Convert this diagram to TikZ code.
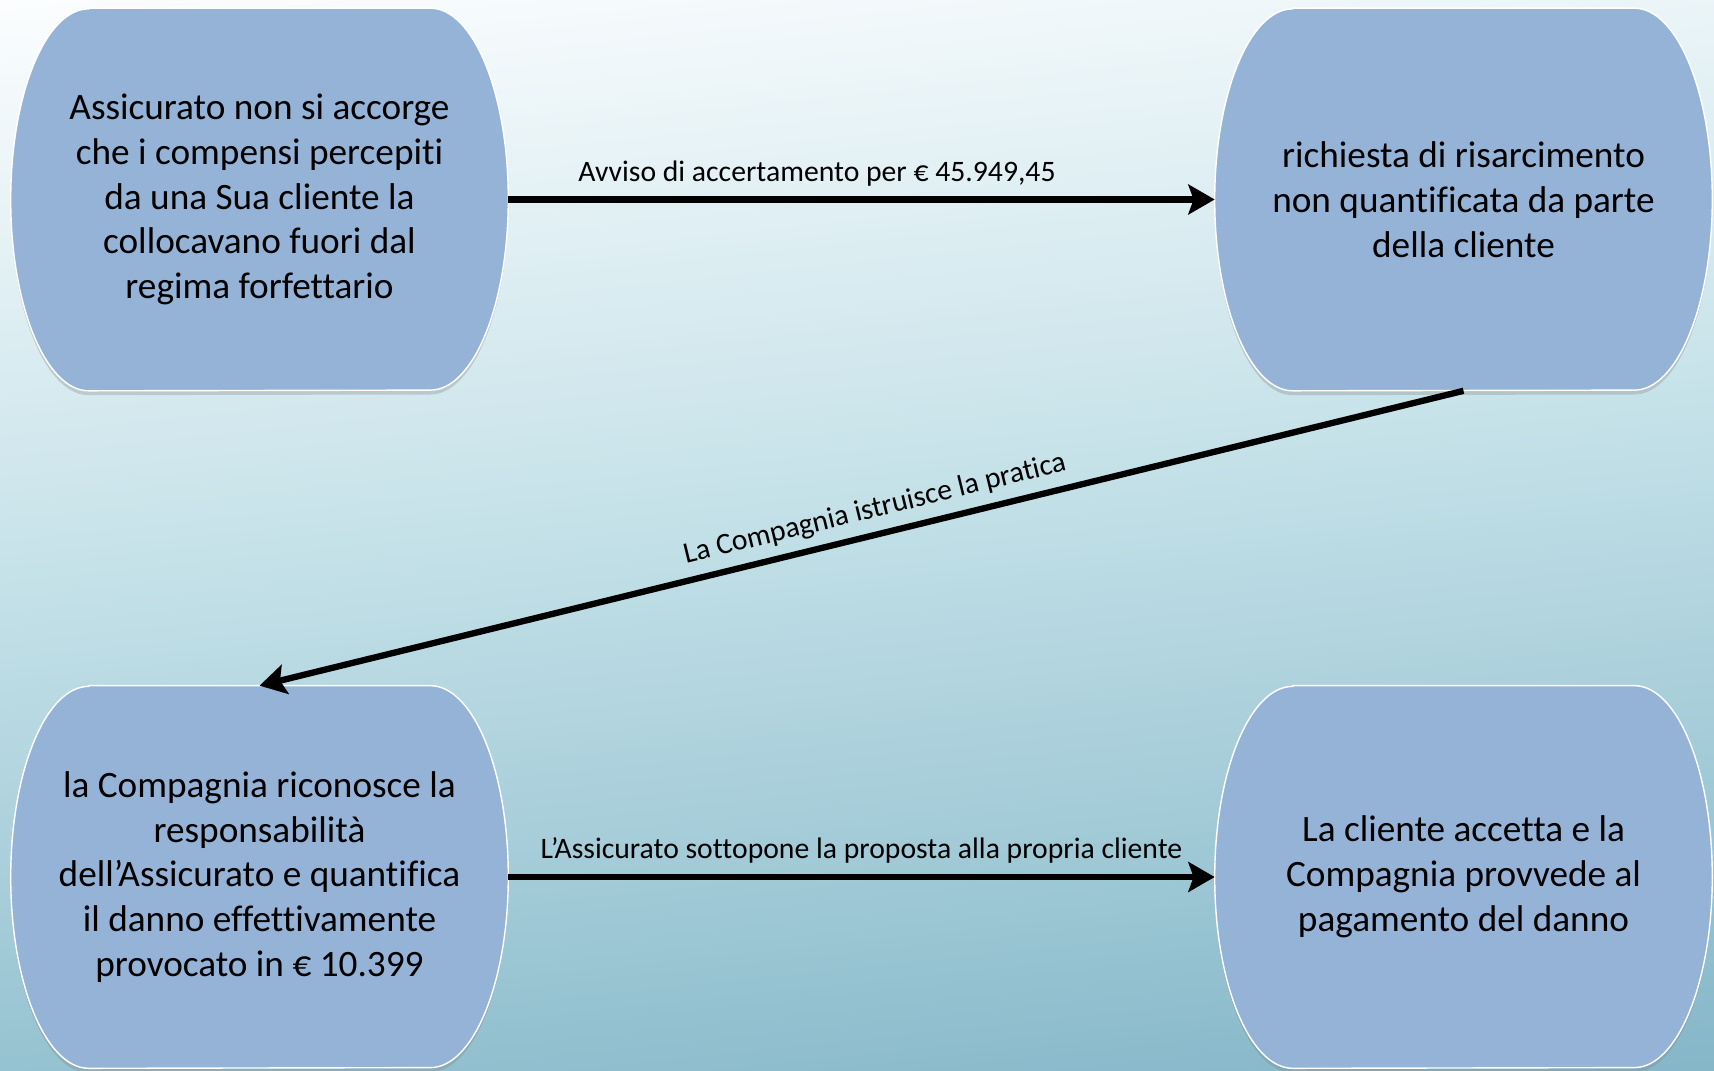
\documentclass[tikz,border=0pt]{standalone}
\usepackage{fontspec}
\setmainfont{Carlito}[Ligatures={NoCommon}]
\usepackage{tikz}
\usetikzlibrary{arrows.meta, positioning, calc, shadows}
\definecolor{cielo}{RGB}{253, 254, 255}
\definecolor{acqua}{RGB}{198, 226, 233}
\definecolor{petrolio}{RGB}{128, 180, 198}
\definecolor{fasefill}{RGB}{149, 179, 215}
\pgfdeclarelayer{sfondo}
\pgfdeclarelayer{dietro}
\pgfsetlayers{sfondo,dietro,main}
\pgfdeclareverticalshading{cielomare}{100bp}{color(0bp)=(petrolio); color(25bp)=(petrolio);
  color(52bp)=(acqua); color(74bp)=(cielo); color(100bp)=(cielo)}

% contorno a capsula dietro il nodo
\newcommand{\capsula}[1]{%
  \begin{pgfonlayer}{dietro}
    \path[capsulabordo] ($(#1.north west)+(78,0)$) -- ($(#1.north east)+(-78,0)$)
      arc[start angle=90, end angle=-90, x radius=1.56cm, y radius=3.82cm]
      -- ($(#1.south west)+(78,0)$)
      arc[start angle=270, end angle=90, x radius=1.56cm, y radius=3.82cm] -- cycle;
  \end{pgfonlayer}}

\begin{document}
\begin{tikzpicture}[x=0.02cm, y=-0.02cm,
    fase/.style={minimum width=9.94cm, minimum height=7.64cm, inner sep=0pt,
      align=center, font=\fontsize{21.2pt}{25.5pt}\selectfont},
    capsulabordo/.style={fill=fasefill, draw=white, line width=0.8pt,
      drop shadow={opacity=0.3, shadow xshift=0pt, shadow yshift=-2.5pt}},
    freccia/.style={line width=3.6pt, -{Stealth[length=15pt, width=17pt, inset=3pt]}},
    etichetta/.style={font=\fontsize{16.9pt}{20pt}\selectfont, inner sep=1pt}]

  \useasboundingbox (0,0) rectangle (1714,1071);
  \begin{pgfonlayer}{sfondo}
    \shade[shading=cielomare, shading angle=6] (-100,-100) rectangle (1814,1171);
  \end{pgfonlayer}

  % Fasi
  \node[fase] (avviso) at (259.5,199.5) {Assicurato non si accorge\\
    che i compensi percepiti\\
    da una Sua cliente la\\
    collocavano fuori dal\\
    regima forfettario};
  \node[fase] (richiesta) at (1463.5,199.5) {richiesta di risarcimento\\
    non quantificata da parte\\
    della cliente};
  \node[fase] (danno) at (259.5,877) {la Compagnia riconosce la\\
    responsabilità\\
    dell’Assicurato e quantifica\\
    il danno effettivamente\\
    provocato in € 10.399};
  \node[fase] (pagamento) at (1463.5,877) {La cliente accetta e la\\
    Compagnia provvede al\\
    pagamento del danno};
  \capsula{avviso}
  \capsula{richiesta}
  \capsula{danno}
  \capsula{pagamento}

  % Passaggi
  \draw[freccia] (avviso.east) -- node[etichetta, pos=0.437, above=5pt] {Avviso di accertamento per € 45.949,45} (richiesta.west);
  \draw[freccia] (richiesta.south) -- node[etichetta, pos=0.484, sloped, above=4pt] {La Compagnia istruisce la pratica} (danno.north);
  \draw[freccia] (danno.east) -- node[etichetta, above=5pt] {L’Assicurato sottopone la proposta alla propria cliente} (pagamento.west);
\end{tikzpicture}
\end{document}
